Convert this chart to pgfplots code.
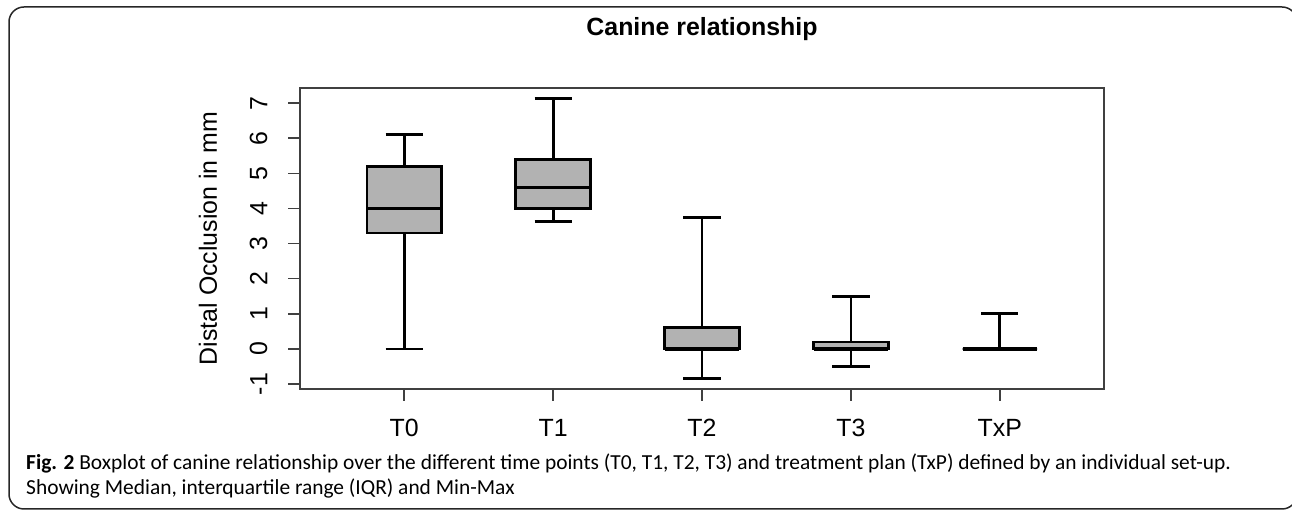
\documentclass[border=0pt]{standalone}
\usepackage{pgfplots}
\pgfplotsset{compat=1.18}
\usepgfplotslibrary{statistics}
\usepackage{fontspec}
\setmainfont{Liberation Sans}
\newfontfamily\capfont{Carlito}
\begin{document}
\begin{tikzpicture}[x=1bp,y=1bp]
\useasboundingbox (0,0) rectangle (1292,511);
\begin{scope}
\clip (0,0) rectangle (1292,511);
\draw[rounded corners=15bp, line width=1.5bp, black!85] (9,504) rectangle (1297,2);
\end{scope}
\begin{axis}[
  at={(300bp,122bp)}, anchor=south west,
  width=804bp, height=301bp, scale only axis,
  xmin=0.3, xmax=5.7, ymin=-1.14, ymax=7.43,
  xtick={1,2,3,4,5}, xticklabels={T0,T1,T2,T3,TxP},
  ytick={-1,0,1,2,3,4,5,6,7},
  /pgf/number format/assume math mode=true,
  tick align=outside, xtick pos=bottom, ytick pos=left,
  major tick length=12bp,
  xticklabel shift=15bp, yticklabel shift=17bp,
  axis line style={black!75, line width=1.5bp},
  tick style={black!75, line width=1.5bp},
  ticklabel style={font=\fontsize{25}{29}\selectfont},
  yticklabel style={rotate=90, anchor=south},
  ylabel={Distal Occlusion in mm},
  ylabel style={font=\fontsize{25}{29}\selectfont, at={(axis description cs:-0.1144,0.5)}, anchor=center},
  title={Canine relationship},
  title style={font=\fontsize{25}{30}\selectfont\bfseries, at={(axis description cs:0.5,1.153)}, anchor=base},
  boxplot/draw direction=y,
  boxplot/every box/.style={draw=black, fill=black!30, line width=2.8bp},
  boxplot/every whisker/.style={draw=black, line width=2.8bp},
  boxplot/every median/.style={draw=black, line width=3.5bp},
  boxplot/box extend=0.5,
  boxplot/whisker extend=0.25,
]
\addplot[black, boxplot prepared={draw position=1, lower whisker=0, lower quartile=3.3, median=4.0, upper quartile=5.2, upper whisker=6.1}] coordinates {};
\addplot[black, boxplot prepared={draw position=2, lower whisker=3.62, lower quartile=4.0, median=4.6, upper quartile=5.4, upper whisker=7.12}] coordinates {};
\addplot[black, boxplot prepared={draw position=3, lower whisker=-0.83, lower quartile=0, median=0, upper quartile=0.6, upper whisker=3.75}] coordinates {};
\addplot[black, boxplot prepared={draw position=4, lower whisker=-0.5, lower quartile=0, median=0, upper quartile=0.2, upper whisker=1.5}] coordinates {};
\addplot[black, boxplot prepared={draw position=5, lower whisker=0, lower quartile=0, median=0, upper quartile=0, upper whisker=1.0}] coordinates {};
\end{axis}
\node[anchor=base west, align=left, inner sep=0pt, font=\capfont\fontsize{21.5}{26}\selectfont] at (26,16)
  {\textbf{Fig. 2} Boxplot of canine relationship over the different time points (T0, T1, T2, T3) and treatment plan (TxP) defined by an individual set-up.\\
   Showing Median, interquartile range (IQR) and Min-Max};
\end{tikzpicture}
\end{document}
